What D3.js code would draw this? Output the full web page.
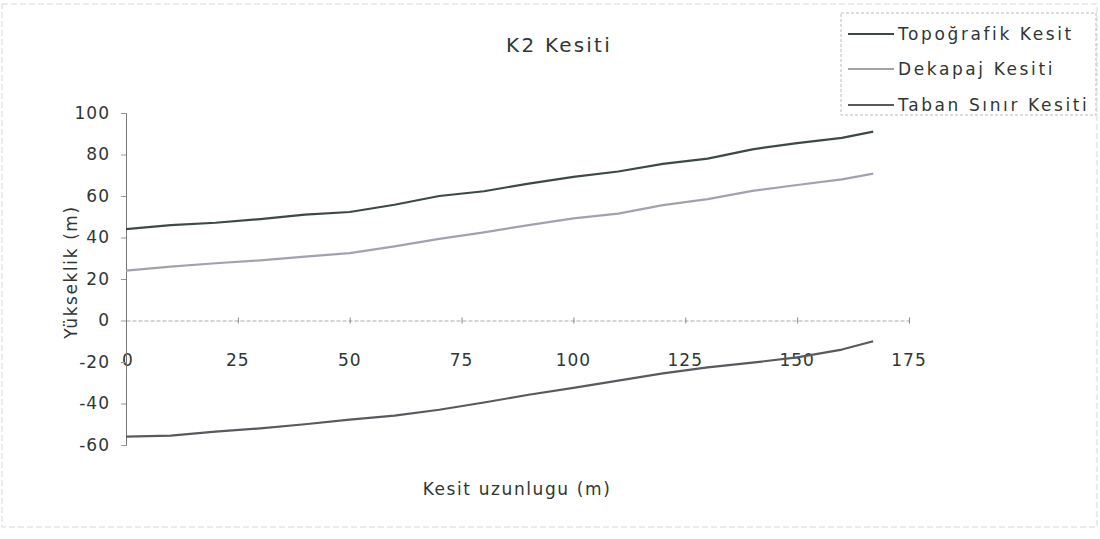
<!DOCTYPE html>
<head>
  <meta charset="utf-8">
  <script src="https://d3js.org/d3.v7.min.js"></script>
  <style>
    body {
      margin: 0;
      background-color: #fff;
    }
    text {
      font-family: "DejaVu Sans", sans-serif;
      fill: #2f3734;
    }
  </style>
</head>

<body>
  <script>
    // Data
    var distances = [0, 10, 20, 30, 40, 50, 60, 70, 80, 90, 100, 110, 120, 130, 140, 150, 160, 167];
    var topografik = [44, 46, 47.1, 48.9, 51, 52.3, 55.8, 60, 62.3, 66, 69.2, 71.8, 75.5, 78, 82.5, 85.5, 88, 91];
    var dekapaj = [24, 26, 27.6, 29, 30.8, 32.5, 35.7, 39.3, 42.5, 46, 49.2, 51.5, 55.6, 58.5, 62.5, 65.3, 68, 70.8];
    var taban = [-56, -55.5, -53.6, -52, -50, -47.8, -45.8, -43, -39.5, -35.8, -32.5, -29, -25.5, -22.6, -20.3, -17.8, -14, -10];

    var seriesNames = ["Topoğrafik Kesit", "Dekapaj Kesiti", "Taban Sınır Kesiti"];
    var xTicks = [0, 25, 50, 75, 100, 125, 150, 175];
    var yTicks = [-60, -40, -20, 0, 20, 40, 60, 80, 100];

    var colors = ["#3c4944", "#a3a1b0", "#575a5e"];

    var width = 1100,
        height = 539;

    var svg = d3.select("body").append("svg")
      .attr("width", width)
      .attr("height", height);

    // faint outer frame of the scan
    svg.append("rect")
      .attr("x", 2).attr("y", 4)
      .attr("width", 1095).attr("height", 523)
      .attr("fill", "none")
      .attr("stroke", "#d8d8d8")
      .attr("stroke-dasharray", "6,3");

    var x = d3.scaleLinear()
      .domain([0, 175])
      .range([126, 909]);

    var y = d3.scaleLinear()
      .domain([-60, 100])
      .range([445, 113]);

    // x axis along y = 0 (light, dotted)
    var xAxis = svg.append("g")
      .attr("transform", "translate(0," + y(0) + ")")
      .call(d3.axisBottom(x).tickValues(xTicks).tickSize(0).tickFormat(""));
    xAxis.select(".domain")
      .attr("stroke", "#aaa")
      .attr("stroke-dasharray", "4,2");
    xAxis.selectAll(".tick line")
      .attr("y1", -3).attr("y2", 3)
      .attr("stroke", "#888");

    // x tick labels sit well below the axis line
    svg.append("g").selectAll("text")
      .data(xTicks).enter()
      .append("text")
      .attr("x", function(d) { return x(d) + (d === 0 ? 2 : 0); })
      .attr("y", 366)
      .attr("text-anchor", "middle")
      .style("font-size", "17px")
      .style("letter-spacing", "1px")
      .text(function(d) { return d; });

    // y axis
    var yAxis = svg.append("g")
      .attr("transform", "translate(" + x(0) + ",0)")
      .call(d3.axisLeft(y).tickValues(yTicks).tickSize(5).tickPadding(11)
        .tickFormat(function(d) { return String(d); }));
    yAxis.select(".domain").attr("stroke", "#777");
    yAxis.selectAll(".tick line").attr("stroke", "#999");
    yAxis.selectAll(".tick text")
      .style("font-size", "17px")
      .style("letter-spacing", "1px")
      .attr("fill", "#2f3734");

    // title
    svg.append("text")
      .attr("x", 559)
      .attr("y", 52)
      .attr("text-anchor", "middle")
      .style("font-size", "20px")
      .style("letter-spacing", "2.2px")
      .text("K2 Kesiti");

    // axis titles
    svg.append("text")
      .attr("x", 517)
      .attr("y", 495)
      .attr("text-anchor", "middle")
      .style("font-size", "17px")
      .style("letter-spacing", "1.6px")
      .text("Kesit uzunlugu (m)");

    svg.append("text")
      .attr("transform", "translate(77,272) rotate(-90)")
      .attr("text-anchor", "middle")
      .style("font-size", "17px")
      .style("letter-spacing", "1.6px")
      .text("Yükseklik (m)");

    // lines
    var allSeries = [topografik, dekapaj, taban];
    var line = d3.line()
      .x(function(d, i) { return x(distances[i]); })
      .y(function(d) { return y(d); });

    svg.append("g").selectAll("path")
      .data(allSeries).enter()
      .append("path")
      .attr("d", line)
      .attr("fill", "none")
      .attr("stroke", function(d, i) { return colors[i]; })
      .attr("stroke-width", 2.2)
      .attr("stroke-linejoin", "round");

    // legend
    var legend = svg.append("g").attr("class", "legend");
    legend.append("rect")
      .attr("x", 841).attr("y", 13)
      .attr("width", 255).attr("height", 102)
      .attr("fill", "#fff")
      .attr("stroke", "#bbb")
      .attr("stroke-dasharray", "3,2");

    var legendY = [34, 69, 105];
    var items = legend.selectAll("g.item")
      .data(seriesNames).enter()
      .append("g")
      .attr("class", "item")
      .attr("transform", function(d, i) { return "translate(848," + legendY[i] + ")"; });

    items.append("line")
      .attr("x1", 0).attr("x2", 46)
      .attr("stroke", function(d, i) { return colors[i]; })
      .attr("stroke-width", 2.2);

    items.append("text")
      .attr("x", 50)
      .attr("y", 6)
      .style("font-size", "17px")
      .style("letter-spacing", "2.6px")
      .text(function(d) { return d; });
  </script>
</body>
